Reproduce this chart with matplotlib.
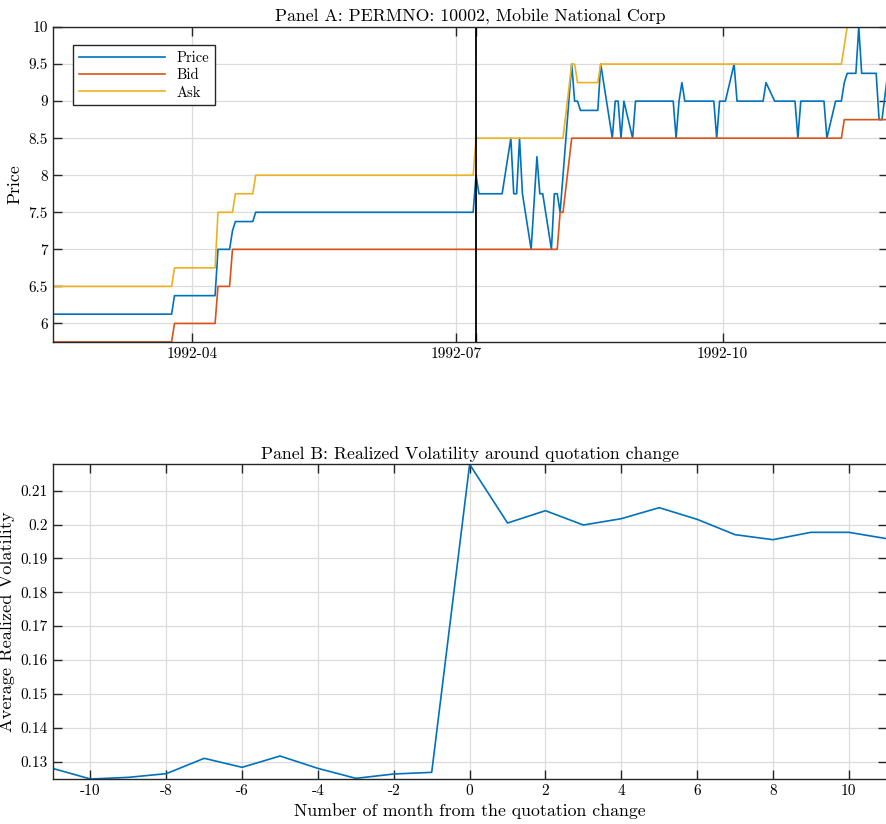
import pandas as pd
import matplotlib
matplotlib.use('Agg')
import matplotlib.pyplot as plt
import matplotlib.dates as mdates
from matplotlib.ticker import FuncFormatter, MultipleLocator

# LaTeX-like look (Computer Modern ships with matplotlib as cmr10)
plt.rcParams['font.family'] = 'serif'
plt.rcParams['font.serif'] = ['cmr10', 'DejaVu Serif']
plt.rcParams['axes.unicode_minus'] = False
plt.rcParams['mathtext.fontset'] = 'cm'

# Panel A data: corner points of each daily series
price_dates = ['1992-02-13', '1992-03-25', '1992-03-26', '1992-04-09', '1992-04-10',
               '1992-04-14', '1992-04-15', '1992-04-16', '1992-04-22', '1992-04-23',
               '1992-07-07', '1992-07-08', '1992-07-09', '1992-07-17', '1992-07-20',
               '1992-07-21', '1992-07-22', '1992-07-23', '1992-07-24', '1992-07-27',
               '1992-07-29', '1992-07-30', '1992-07-31', '1992-08-03', '1992-08-04',
               '1992-08-05', '1992-08-06', '1992-08-10', '1992-08-11', '1992-08-12',
               '1992-08-13', '1992-08-19', '1992-08-20', '1992-08-24', '1992-08-25',
               '1992-08-26', '1992-08-27', '1992-08-28', '1992-08-31', '1992-09-01',
               '1992-09-14', '1992-09-15', '1992-09-16', '1992-09-17', '1992-09-18',
               '1992-09-28', '1992-09-29', '1992-09-30', '1992-10-02', '1992-10-05',
               '1992-10-06', '1992-10-15', '1992-10-16', '1992-10-19', '1992-10-26',
               '1992-10-27', '1992-10-28', '1992-11-05', '1992-11-06', '1992-11-09',
               '1992-11-11', '1992-11-12', '1992-11-13', '1992-11-16', '1992-11-17',
               '1992-11-18', '1992-11-23', '1992-11-24', '1992-11-25', '1992-11-27']
price_vals = [6.125, 6.125, 6.375, 6.375, 7.0,
              7.0, 7.25, 7.375, 7.375, 7.5,
              7.5, 8.0, 7.75, 7.75, 8.5,
              7.75, 7.75, 8.5, 7.75, 7.0,
              8.25, 7.75, 7.75, 7.0, 7.75,
              7.75, 7.5, 9.5, 9.0, 9.0,
              8.875, 8.875, 9.5, 8.5, 9.0,
              9.0, 8.5, 9.0, 8.5, 9.0,
              9.0, 8.5, 9.0, 9.25, 9.0,
              9.0, 8.5, 9.0, 9.0, 9.5,
              9.0, 9.0, 9.25, 9.0, 9.0,
              8.5, 9.0, 9.0, 8.5, 9.0,
              9.0, 9.25, 9.375, 9.375, 10.0,
              9.375, 9.375, 8.75, 8.75, 9.375]

bid_dates = ['1992-02-13', '1992-03-25', '1992-03-26', '1992-04-09', '1992-04-10',
             '1992-04-14', '1992-04-15', '1992-08-05', '1992-08-06', '1992-08-07',
             '1992-08-10', '1992-11-11', '1992-11-12', '1992-11-27']
bid_vals = [5.75, 5.75, 6.0, 6.0, 6.5,
            6.5, 7.0, 7.0, 7.5, 7.5,
            8.5, 8.5, 8.75, 8.75]

ask_dates = ['1992-02-13', '1992-03-25', '1992-03-26', '1992-04-09', '1992-04-10',
             '1992-04-15', '1992-04-16', '1992-04-22', '1992-04-23', '1992-07-07',
             '1992-07-08', '1992-08-07', '1992-08-10', '1992-08-11', '1992-08-12',
             '1992-08-19', '1992-08-20', '1992-11-11', '1992-11-13', '1992-11-27']
ask_vals = [6.5, 6.5, 6.75, 6.75, 7.5,
            7.5, 7.75, 7.75, 8.0, 8.0,
            8.5, 8.5, 9.5, 9.5, 9.25,
            9.25, 9.5, 9.5, 10.0, 10.0]

event_date = '1992-07-08'

# Panel B data
months = list(range(-11, 12))
avg_rv = [0.1280, 0.12486, 0.12535, 0.12644, 0.13097, 0.12831, 0.13165, 0.1280,
          0.12506, 0.12634, 0.12683, 0.21778, 0.20045, 0.20409, 0.19986, 0.20173,
          0.20498, 0.20154, 0.19701, 0.19553, 0.19770, 0.19770, 0.19583]

c_price = '#0072BD'
c_bid = '#D95319'
c_ask = '#EDB120'
axis_col = '#262626'
grid_col = '#dcdcdc'

fig = plt.figure(figsize=(8.86, 8.24), dpi=100)


def style_axes(ax):
    for s in ax.spines.values():
        s.set_color(axis_col)
        s.set_linewidth(1.0)
    ax.tick_params(which='both', direction='in', top=True, right=True,
                   length=6.5, width=1.0, color=axis_col, labelsize=11,
                   labelcolor='black')
    ax.grid(True, which='major', color=grid_col, linewidth=0.9)
    ax.set_axisbelow(True)


# Panel A
ax1 = fig.add_axes([0.0595, 0.585, 0.9425, 0.3822])
ax1.plot(pd.to_datetime(price_dates), price_vals, color=c_price, lw=1.2, label='Price')
ax1.plot(pd.to_datetime(bid_dates), bid_vals, color=c_bid, lw=1.2, label='Bid')
ax1.plot(pd.to_datetime(ask_dates), ask_vals, color=c_ask, lw=1.2, label='Ask')
ax1.axvline(pd.Timestamp(event_date), color='black', lw=1.3)
ax1.set_xlim(pd.Timestamp(price_dates[0]), pd.Timestamp(price_dates[-1]))
ax1.set_ylim(5.75, 10)
ax1.xaxis.set_major_locator(mdates.MonthLocator(bymonth=[4, 7, 10]))
ax1.xaxis.set_major_formatter(mdates.DateFormatter('%Y-%m'))
ax1.set_xticks([mdates.date2num(pd.Timestamp(event_date))], minor=True)
ax1.yaxis.set_major_locator(MultipleLocator(0.5))
ax1.yaxis.set_major_formatter(FuncFormatter(lambda v, p: '%g' % v))
style_axes(ax1)
ax1.set_ylabel('Price', fontsize=12.8)
ax1.set_title('Panel A: PERMNO: 10002, Mobile National Corp', fontsize=12.8, pad=4)
leg = ax1.legend(loc='upper left', bbox_to_anchor=(0.0247, 0.942), borderaxespad=0,
                 fontsize=10.5, handlelength=5.9, labelspacing=0.25, fancybox=False,
                 framealpha=1, edgecolor=axis_col)
leg.get_frame().set_linewidth(1.0)

# Panel B
ax2 = fig.add_axes([0.0593, 0.0546, 0.9415, 0.3819])
ax2.plot(months, avg_rv, color=c_price, lw=1.2)
ax2.set_xlim(-11, 11)
ax2.set_ylim(min(avg_rv), max(avg_rv))
ax2.xaxis.set_major_locator(MultipleLocator(2))
ax2.xaxis.set_major_formatter(FuncFormatter(lambda v, p: '%d' % v))
ax2.yaxis.set_major_locator(MultipleLocator(0.01))
ax2.yaxis.set_major_formatter(FuncFormatter(lambda v, p: '%g' % round(v, 3)))
style_axes(ax2)
ax2.set_ylabel('Average Realized Volatility', fontsize=13.2)
ax2.set_xlabel('Number of month from the quotation change', fontsize=12.8)
ax2.set_title('Panel B: Realized Volatility around quotation change', fontsize=12.8, pad=4)

fig.savefig('out.png', dpi=100)
